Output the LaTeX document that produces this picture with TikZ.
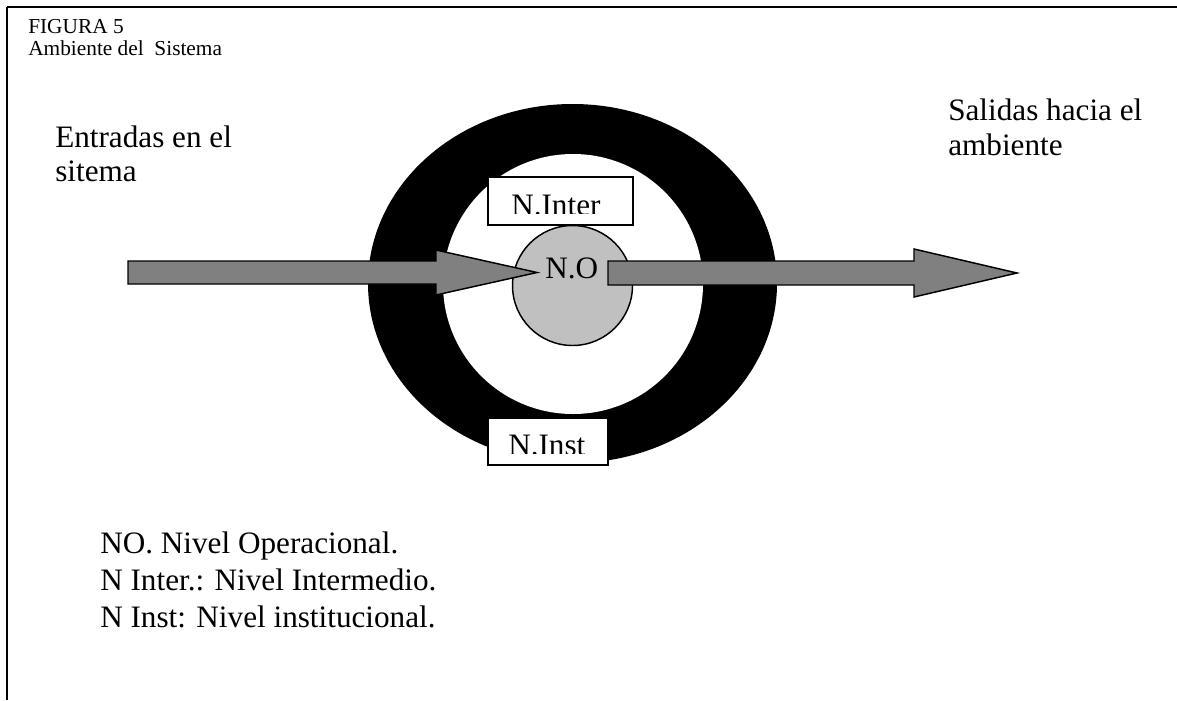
\documentclass[tikz,border=0pt]{standalone}
\usepackage{fontspec}
\setmainfont{Liberation Serif}
\definecolor{arrowgray}{HTML}{808080}
\definecolor{coregray}{HTML}{C0C0C0}
\newcommand{\bigtxt}{\fontsize{23.4}{26.9}\selectfont}
\newcommand{\smalltxt}{\fontsize{16}{18.4}\selectfont}
\begin{document}
\begin{tikzpicture}[x=0.75pt,y=-0.75pt,
  outline/.style={draw=black,line width=1.1pt,line join=miter},
  blockarrow/.style={outline,fill=arrowgray},
  levelbox/.style={outline,fill=white},
  txt/.style={inner sep=0pt,anchor=base west,font=\bigtxt},
  captiontxt/.style={inner sep=0pt,anchor=base west,font=\smalltxt}]
\useasboundingbox (0,0) rectangle (1177,700);

% frame lines
\draw[line width=1.1pt] (7,7) -- (1177,7);
\draw[line width=1.1pt] (7,7) -- (7,108);
\draw[line width=1.9pt] (7,108) -- (7,700);

% caption
\node[captiontxt] (fig) at (28,33) {FIGURA 5};
\node[captiontxt] (amb) at (28,55) {Ambiente del \ Sistema};

% side texts
\node[txt] (in1) at (55,147) {Entradas en el};
\node[txt] (in2) at (55,181) {sitema};
\node[txt] (out1) at (948,120) {Salidas hacia el};
\node[txt] (out2) at (948,155) {ambiente};

% institutional ring and intermediate level
\fill[black] (572.5,283.5) ellipse [x radius=204.5, y radius=179.5];
\fill[white] (573,284) circle [radius=130];

% operational core
\node[circle,outline,fill=coregray,minimum size=90pt,inner sep=0pt] (no) at (572.5,285.5) {};

% input and output arrows
\draw[blockarrow] (128,261) -- (436,261) -- (436,250) -- (537,272.5)
  -- (436,295) -- (436,284) -- (128,284) -- cycle;
\draw[blockarrow] (608,261) -- (914,261) -- (914,249) -- (1017,273)
  -- (914,297) -- (914,285) -- (608,285) -- cycle;

\node[txt] (nolabel) at (545,278) {N.O};

% level boxes with clipped labels
\draw[levelbox] (488,177) rectangle (633,225);
\begin{scope}
  \clip (489,178) rectangle (632,213);
  \node[txt] (inter) at (511,215.5) {N.Inter};
\end{scope}
\draw[levelbox] (488,418) rectangle (608,465);
\begin{scope}
  \clip (489,419) rectangle (607,453);
  \node[txt] (inst) at (508,455.5) {N.Inst};
\end{scope}

% legend
\node[txt] (leg1) at (100,553) {NO. Nivel Operacional.};
\node[txt] (leg2) at (100,590) {N Inter.: Nivel Intermedio.};
\node[txt] (leg3) at (100,627) {N Inst: Nivel institucional.};
\end{tikzpicture}
\end{document}
